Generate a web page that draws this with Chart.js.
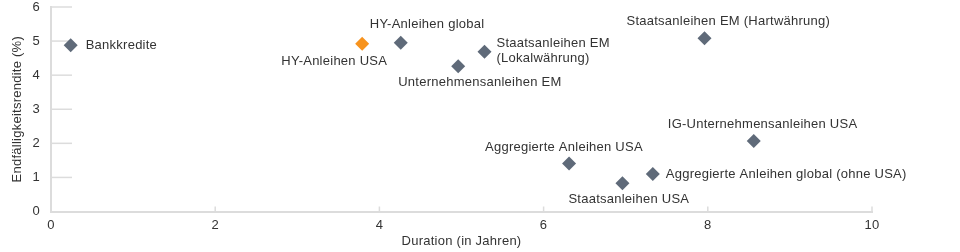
<!DOCTYPE html>
<html>
<head>
<meta charset="utf-8">
<script src="https://cdn.jsdelivr.net/npm/chart.js@4/dist/chart.umd.min.js"></script>
<style>
  html, body { margin: 0; padding: 0; background: #ffffff; }
  #wrap { width: 960px; height: 252px; }
</style>
</head>
<body>
<div id="wrap"><canvas id="c" width="960" height="252"></canvas></div>
<script>
const categories = [
  'Bankkredite',
  'HY-Anleihen USA',
  'HY-Anleihen global',
  'Staatsanleihen EM\n(Lokalwährung)',
  'Unternehmensanleihen EM',
  'Staatsanleihen EM (Hartwährung)',
  'IG-Unternehmensanleihen USA',
  'Aggregierte Anleihen USA',
  'Staatsanleihen USA',
  'Aggregierte Anleihen global (ohne USA)'
];
const duration = [0.24, 3.79, 4.26, 5.28, 4.96, 7.96, 8.56, 6.31, 6.96, 7.33];
const yieldToWorst = [4.88, 4.92, 4.95, 4.69, 4.26, 5.08, 2.07, 1.41, 0.83, 1.10];
const highlighted = [false, true, false, false, false, false, false, false, false, false];
const xTicks = [0, 2, 4, 6, 8, 10];
const yTicks = [0, 1, 2, 3, 4, 5, 6];

// label placement (style only): offset from the point in px and text alignment
const labelStyle = [
  { dx: 15, dy: 0, align: 'left' },
  { dx: 25, dy: 18, align: 'right' },
  { dx: -31, dy: -18, align: 'left' },
  { dx: 12, dy: -8, align: 'left' },
  { dx: -60, dy: 16, align: 'left' },
  { dx: -78, dy: -17, align: 'left' },
  { dx: -86, dy: -17, align: 'left' },
  { dx: -84, dy: -16, align: 'left' },
  { dx: -54, dy: 16, align: 'left' },
  { dx: 13, dy: 0, align: 'left' }
];

const FONT = '"Liberation Sans", Arial, sans-serif';
const FSIZE = 13;
const SPACING = '0.25px';
const TEXT = '#333333';
const AXIS = '#dcdcdc';
const GREY = '#5f6a79';
const ORANGE = '#f7931e';

const points = duration.map((d, i) => ({ x: d, y: yieldToWorst[i] }));

const spacingPlugin = {
  id: 'spacing',
  beforeDraw(chart) { chart.ctx.letterSpacing = SPACING; }
};

const labelPlugin = {
  id: 'pointLabels',
  afterDatasetsDraw(chart) {
    const ctx = chart.ctx;
    const meta = chart.getDatasetMeta(0);
    ctx.save();
    ctx.letterSpacing = SPACING;
    ctx.font = FSIZE + 'px ' + FONT;
    ctx.fillStyle = TEXT;
    ctx.textBaseline = 'middle';
    meta.data.forEach((el, i) => {
      const st = labelStyle[i];
      ctx.textAlign = st.align;
      const lines = categories[i].split('\n');
      lines.forEach((ln, k) => {
        ctx.fillText(ln, el.x + st.dx, el.y + st.dy + k * 15);
      });
    });
    ctx.restore();
  }
};

const tickMarkPlugin = {
  id: 'tickMarks',
  beforeDatasetsDraw(chart) {
    const ctx = chart.ctx;
    const xs = chart.scales.x, ys = chart.scales.y;
    ctx.save();
    ctx.strokeStyle = AXIS;
    ctx.lineWidth = 1.5;
    yTicks.forEach(v => {
      if (v === 0) return;
      const py = ys.getPixelForValue(v);
      ctx.beginPath();
      ctx.moveTo(xs.left, py);
      ctx.lineTo(xs.left + 21, py);
      ctx.stroke();
    });
    xTicks.forEach(v => {
      if (v === 0) return;
      const px = xs.getPixelForValue(v);
      ctx.beginPath();
      ctx.moveTo(px, ys.bottom);
      ctx.lineTo(px, ys.bottom - 5);
      ctx.stroke();
    });
    ctx.restore();
  }
};

new Chart(document.getElementById('c'), {
  type: 'scatter',
  data: {
    datasets: [{
      data: points,
      pointStyle: 'rectRot',
      pointRadius: 7,
      pointHoverRadius: 7,
      pointBackgroundColor: highlighted.map(h => h ? ORANGE : GREY),
      pointBorderColor: highlighted.map(h => h ? ORANGE : GREY),
      pointBorderWidth: 0
    }]
  },
  options: {
    responsive: false,
    animation: false,
    events: [],
    layout: { padding: { top: 6, right: 88, left: 0, bottom: 0 } },
    plugins: { legend: { display: false }, tooltip: { enabled: false } },
    scales: {
      x: {
        type: 'linear',
        min: 0, max: 10,
        afterBuildTicks(s) { s.ticks = xTicks.map(v => ({ value: v })); },
        afterFit(s) { s.height = 40.5; s.paddingLeft = 0; s.paddingRight = 0; },
        grid: { display: false, drawTicks: false },
        border: { display: true, color: AXIS, width: 2 },
        ticks: { padding: 6, color: TEXT, font: { family: FONT, size: FSIZE } },
        title: { display: true, text: 'Duration (in Jahren)', color: TEXT, font: { family: FONT, size: FSIZE }, padding: { top: 3, bottom: 3 } }
      },
      y: {
        type: 'linear',
        min: 0, max: 6,
        afterBuildTicks(s) { s.ticks = yTicks.map(v => ({ value: v })); },
        afterFit(s) { s.width = 51; s.paddingTop = 0; s.paddingBottom = 0; },
        grid: { display: false, drawTicks: false },
        border: { display: true, color: AXIS, width: 2 },
        ticks: { padding: 11, color: TEXT, font: { family: FONT, size: FSIZE } },
        title: { display: true, text: 'Endfälligkeitsrendite (%)', color: TEXT, font: { family: FONT, size: FSIZE }, padding: { top: 10, bottom: 10 } }
      }
    }
  },
  plugins: [spacingPlugin, tickMarkPlugin, labelPlugin]
});
</script>
</body>
</html>
